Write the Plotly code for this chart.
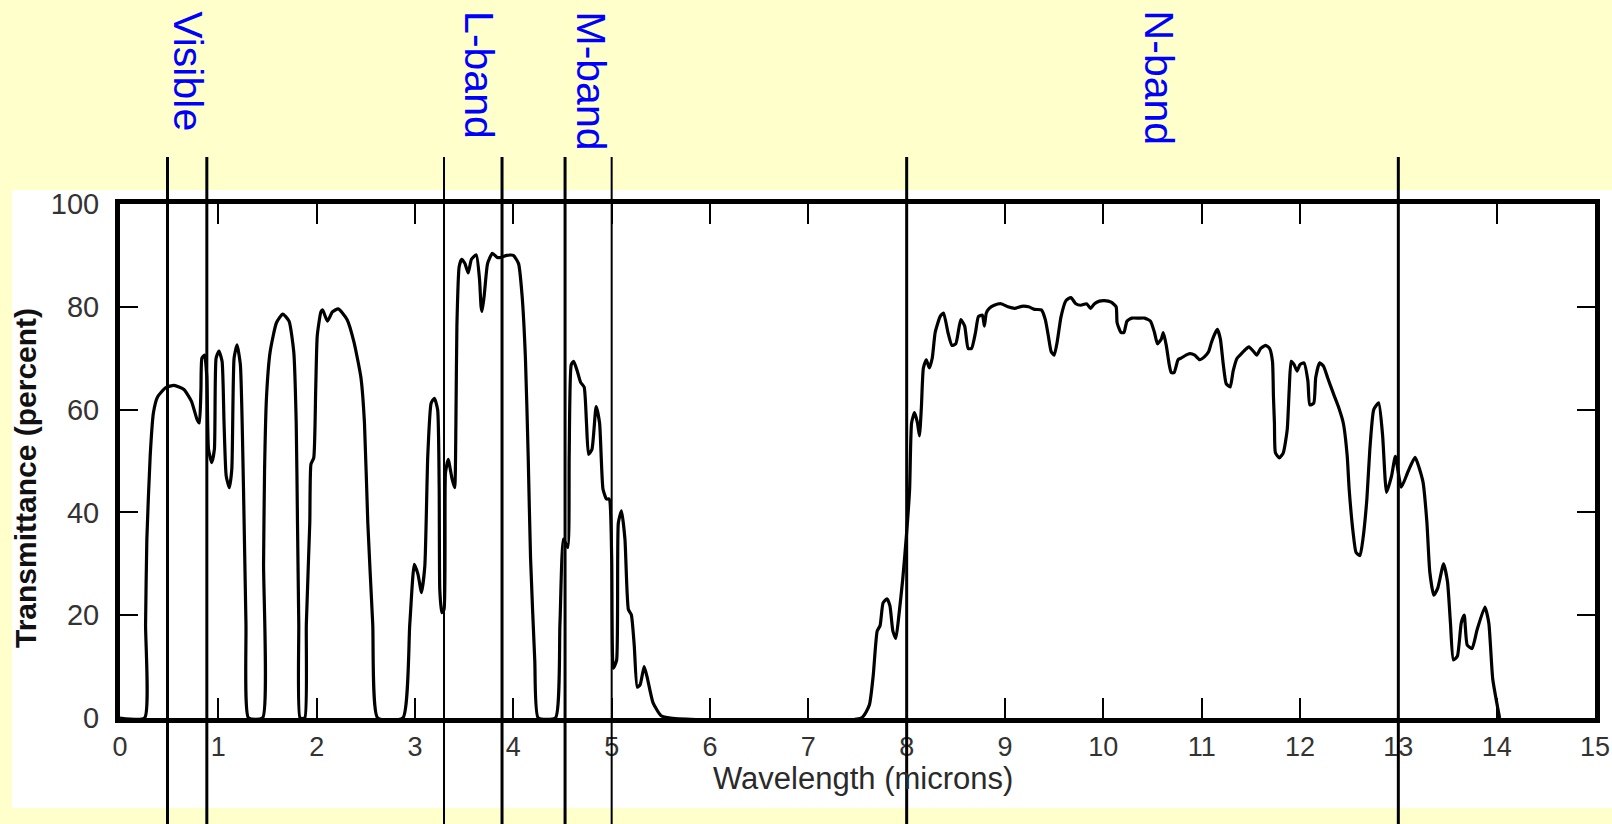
import plotly.graph_objects as go

# ---- data ----
wavelength = [
    0, 0.25, 0.26, 0.273, 0.307, 0.34, 0.383, 0.467, 0.55, 0.65, 0.727, 0.783, 0.807, 0.823, 0.833,
    0.86, 0.883, 0.9, 0.933, 0.96, 0.977, 1.006, 1.038, 1.058, 1.08, 1.112, 1.137, 1.16, 1.19, 1.224,
    1.256, 1.281, 1.307,
    1.45, 1.46, 1.47, 1.49, 1.527, 1.591, 1.655, 1.719, 1.767, 1.792, 1.805, 1.818, 1.831,
    1.879, 1.895, 1.93, 1.942, 1.97, 1.99, 2.006, 2.043, 2.06, 2.11, 2.16, 2.22, 2.31, 2.38, 2.45,
    2.486, 2.52, 2.57, 2.62,
    2.876, 2.947, 2.993, 3.03, 3.066, 3.1, 3.13, 3.164, 3.197, 3.23, 3.246, 3.252, 3.272, 3.295,
    3.31, 3.338, 3.377, 3.403, 3.416, 3.426, 3.449, 3.475, 3.508, 3.541, 3.574, 3.623, 3.656, 3.672,
    3.682, 3.705, 3.738, 3.787, 3.836, 3.869, 3.934, 4.0, 4.053, 4.088, 4.123, 4.151, 4.175, 4.218,
    4.253,
    4.428, 4.474, 4.51, 4.554, 4.568, 4.589, 4.614, 4.65, 4.684, 4.72, 4.744, 4.765, 4.8, 4.842,
    4.877, 4.912, 4.947, 4.975, 5.0, 5.017, 5.05, 5.068, 5.1, 5.135, 5.17, 5.2, 5.23, 5.26, 5.29,
    5.33, 5.36, 5.42, 5.5, 5.6,
    7.54, 7.62, 7.66, 7.7, 7.73, 7.76, 7.8, 7.83, 7.86, 7.89, 7.92, 7.96, 8.0, 8.03, 8.05, 8.08,
    8.11, 8.13, 8.15, 8.17, 8.2, 8.23, 8.26, 8.29, 8.34, 8.375, 8.42, 8.46, 8.5, 8.55, 8.59, 8.625,
    8.66, 8.7, 8.73, 8.77, 8.79, 8.81, 8.84, 8.89, 8.96, 9.03, 9.1, 9.17, 9.24, 9.3, 9.37, 9.41,
    9.44, 9.47, 9.5, 9.53, 9.57, 9.62, 9.67, 9.72, 9.77, 9.83, 9.87, 9.91, 9.96, 10.01, 10.08,
    10.13, 10.14, 10.18, 10.21, 10.24, 10.29, 10.36, 10.42, 10.48, 10.52, 10.55, 10.59, 10.61,
    10.64, 10.67, 10.69, 10.72, 10.76, 10.79, 10.84, 10.88, 10.93, 10.98, 11.03, 11.07, 11.1,
    11.14, 11.16, 11.19, 11.22, 11.25, 11.29, 11.32, 11.36, 11.39, 11.44, 11.48, 11.53, 11.56,
    11.6, 11.65, 11.69, 11.72, 11.73, 11.74, 11.75, 11.79, 11.83, 11.87, 11.89, 11.91, 11.94,
    11.97, 12.0, 12.04, 12.08, 12.1, 12.14, 12.16, 12.2, 12.24, 12.28, 12.34, 12.39, 12.44, 12.48,
    12.5, 12.54, 12.57, 12.61, 12.64, 12.68, 12.71, 12.75, 12.8, 12.84, 12.88, 12.93, 12.97, 13.03,
    13.1, 13.17, 13.25, 13.29, 13.32, 13.36, 13.4, 13.46, 13.5, 13.53, 13.56, 13.6, 13.64, 13.67,
    13.7, 13.75, 13.8, 13.88, 13.92, 13.96, 14.03,
]
transmittance = [
    0, 0, 18.3, 34.8, 51, 59.4, 62.5, 64.3, 64.7, 63.9, 61.6, 58.1, 57.4, 63.8, 70,
    70.6, 66.3, 52.3, 49.7, 52.3, 70, 71.4, 69.4, 57.4, 47.1, 44.8, 48.4, 70, 72.6, 68.75,
    44.5, 18.3, 0,
    0, 30, 48, 62.5, 71.25, 76.9, 78.6, 77.2, 71.25, 57.4, 38, 18.3, 0,
    0, 18.3, 38, 49.4, 50.6, 63.75, 74.4, 79, 79.4, 77.2, 79, 79.6, 77.5, 73.1, 66.25,
    57.4, 38, 18.3, 0,
    0, 18.3, 29.9, 28, 24.4, 29.6, 51, 61.25, 62.2, 60, 44.5, 25, 20.5, 21.1,
    47.7, 50.3, 46.5, 44.8, 57.4, 76.25, 87.8, 89.25, 88.4, 86.6, 89.25, 90.1, 85.4, 80,
    79.1, 82.4, 88.4, 90.4, 89.6, 89.6, 90.0, 90, 88.4, 82.4, 70, 51, 31.2, 11.2,
    0,
    0, 18.3, 34.8, 33.2, 51, 68.75, 69.4, 67.5, 65.3, 64.4, 57.4, 51.3, 52.3, 60.6,
    57.4, 44.5, 42.6, 42.6, 31.2, 9.7, 11.2, 38, 40.3, 34.8, 21.1, 20.1, 14, 6, 6.5,
    10, 8, 3, 0.5, 0,
    0, 2.5, 8.3, 16.9, 18, 22.4, 23.2, 21.8, 16.9, 15.5, 19.8, 27, 36.1, 44.5, 57.4, 59.4,
    57.4, 54.9, 60.6, 68.1, 69.7, 68.1, 70, 75, 78.1, 78.8, 75, 72.5, 72.8, 77.5, 76.25, 71.9,
    71.9, 75, 78.1, 78.4, 76.25, 78.8, 79.7, 80.3, 80.6, 80, 79.7, 80.1, 80, 79.5, 79.4, 77.5,
    74.4, 71.25, 70.6, 73.1, 78.1, 81.2, 81.8, 80.6, 80.3, 80.6, 79.7, 80.6, 81.1, 81.2, 80.9,
    80, 76.9, 75, 75, 77.2, 77.8, 77.8, 77.8, 77.2, 75, 72.8, 73.75, 75,
    72.5, 68.75, 67.2, 67.2, 69.7, 70, 70.6, 70.9, 70.6, 69.7, 70.3, 71.25, 73.1,
    75, 75.6, 73.75, 68.75, 65, 64.4, 67.5, 70, 70.6, 71.6, 72.2, 71.25, 70.6,
    71.9, 72.5, 71.9, 69.4, 62.5, 57.4, 51.6, 50.6, 51.6, 56.1, 63.75, 69.4, 68.75,
    67.5, 68.75, 69.1, 65.6, 60.9, 61.25, 66.25, 69.1, 68.4, 66.25, 63.1, 60.6, 57.4, 51,
    44.5, 36.1, 32.2, 31.6, 34.8, 42.6, 52.2, 60, 61.3, 55, 43.9, 47, 50.9, 44.9,
    48, 50.7, 46, 38.2, 28.4, 23.9, 25.2, 30, 26.5, 18.5, 11.3, 12, 18.5, 20,
    14.2, 13.5, 17.1, 21.6, 18.5, 7.6, 0,
]

x_ticks = list(range(0, 16))
y_ticks = [0, 20, 40, 60, 80, 100]

band_names = ["Visible", "L-band", "M-band", "N-band"]
band_label_x = [0.69, 3.65, 4.79, 10.57]
band_edges = [0.483, 0.883, 3.295, 3.885, 4.526, 5.0, 8.0, 13.0]
band_edge_widths = [3, 3, 2, 3, 3, 2, 3, 3]

x_title = "Wavelength (microns)"
y_title = "Transmittance (percent)"

# ---- figure ----
W, H = 1612, 824
L, R, T, B = 120, 17, 204, 106
plot_h = H - T - B
plot_w = W - L - R

FONT = "Liberation Sans, Arial, sans-serif"

fig = go.Figure()
fig.add_trace(go.Scatter(
    x=wavelength, y=transmittance, mode="lines",
    line=dict(color="black", width=3.2, shape="spline", smoothing=0.5),
    hoverinfo="skip", showlegend=False,
))

# white panel of the pasted chart
fig.add_shape(type="rect", xref="paper", yref="paper", layer="below",
              x0=(12 - L) / plot_w, x1=1.05,
              y0=-(808 - (H - B)) / plot_h, y1=1 + (T - 190) / plot_h,
              fillcolor="white", line=dict(width=0))

# band boundary lines
y_top = 1 + (T - 157) / plot_h
y_bot = -(B + 10) / plot_h
for xe, lw in zip(band_edges, band_edge_widths):
    fig.add_shape(type="line", xref="x", yref="paper", layer="above",
                  x0=xe, x1=xe, y0=y_bot, y1=y_top,
                  line=dict(color="black", width=lw))

# band labels
for name, xl in zip(band_names, band_label_x):
    fig.add_annotation(x=xl, xref="x", y=1 + (T - 9) / plot_h, yref="paper",
                       text=name, showarrow=False, textangle=90,
                       xanchor="center", yanchor="top",
                       font=dict(family=FONT, size=41, color="#0000FF"))

# axis titles
fig.add_annotation(x=(863 - L) / plot_w, xref="paper", y=-(778 - (H - B)) / plot_h, yref="paper",
                   text=x_title, showarrow=False, xanchor="center", yanchor="middle",
                   font=dict(family=FONT, size=31, color="#2a2a2a"))
fig.add_annotation(x=(25 - L) / plot_w, xref="paper", y=((H - B) - 478) / plot_h, yref="paper",
                   text="<b>" + y_title + "</b>", showarrow=False, textangle=-90,
                   xanchor="center", yanchor="middle",
                   font=dict(family=FONT, size=30, color="#111111"))

fig.update_xaxes(
    range=[0, 15], tickvals=x_ticks, ticktext=[str(v) for v in x_ticks],
    ticks="inside", ticklen=20, tickwidth=2, tickcolor="black",
    showline=True, linewidth=5, linecolor="black", mirror="ticks",
    showgrid=False, zeroline=False, automargin=False,
    tickfont=dict(family=FONT, size=27, color="#333333"),
    ticklabelstandoff=1,
)
fig.update_yaxes(
    range=[0, 100], tickvals=y_ticks, ticktext=[str(v) for v in y_ticks],
    ticks="inside", ticklen=18, tickwidth=2, tickcolor="black",
    showline=True, linewidth=5, linecolor="black", mirror="ticks",
    showgrid=False, zeroline=False, automargin=False,
    tickfont=dict(family=FONT, size=29, color="#333333"),
    ticklabelstandoff=10,
)

fig.update_layout(
    width=W, height=H,
    margin=dict(l=L, r=R, t=T, b=B, pad=0, autoexpand=False),
    paper_bgcolor="#FFFFCC", plot_bgcolor="white",
    showlegend=False,
)

fig.write_html(
    "out.html",
    config={"displayModeBar": False},
    post_script="document.body.style.margin='0';document.body.style.overflow='hidden';",
)
